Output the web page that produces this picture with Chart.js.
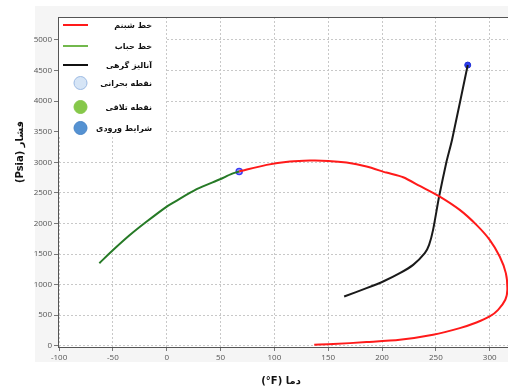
<!DOCTYPE html>
<html>
<head>
<meta charset="utf-8">
<script src="https://cdn.jsdelivr.net/npm/chart.js@4.4.1/dist/chart.umd.min.js"></script>
<style>
  html, body { margin: 0; padding: 0; background: #ffffff; }
  #c { display: block; }
</style>
</head>
<body>
<canvas id="c" width="508" height="387"></canvas>
<script>
// Phase envelope: dew line (red) and bubble line (green), plus the nodal-analysis path
const dewTemp = [67.3, 92.8, 114.4, 133, 150, 167, 185.6, 204, 219.6, 235, 253.6, 272.2, 287.7, 300, 309.3, 315, 316.4, 314.5, 307.8, 300, 287.7, 272.2, 247.4, 216.5, 185.6, 154.6, 137];
const dewPres = [2850, 2958, 3012, 3028, 3023, 2995, 2930, 2832, 2756, 2614, 2440, 2222, 1977, 1732, 1459, 1188, 915, 752, 588, 479, 381, 289, 180, 98, 60, 28, 16];

const bubbleTemp = [-62.6, -49.6, -34, -18.6, 0, 7.7, 27.8, 49.5, 60.3, 67.3];
const bubblePres = [1351, 1569, 1814, 2031, 2276, 2358, 2560, 2723, 2810, 2850];

const nodalTemp = [164.8, 185.6, 201, 216.5, 228.9, 239.7, 243.7, 247.4, 253, 259.9, 265, 279.6];
const nodalPres = [806, 942, 1051, 1187, 1323, 1514, 1650, 1895, 2440, 3012, 3366, 4590];

const criticalPoint = [67.3, 2850];
const crossingPoint = [];          // no intersection marker is plotted
const inletPoint = [279.6, 4590];

const seriesLabels = ['خط شبنم', 'خط حباب', 'آنالیز گرهی', 'نقطه بحرانی', 'نقطه تلاقی', 'شرایط ورودی'];
const xTitle = '(°F) دما';
const yTitle = '(Psia) فشار';

const xTicks = [-100, -50, 0, 50, 100, 150, 200, 250, 300];
const yTicks = [0, 500, 1000, 1500, 2000, 2500, 3000, 3500, 4000, 4500, 5000];

const toXY = (xs, ys) => xs.map((x, i) => ({ x: x, y: ys[i] }));
const onePoint = p => (p.length ? [{ x: p[0], y: p[1] }] : []);

const ARABIC_FONT = '"DejaVu Sans", sans-serif';

// Page panel, white plotting area and top frame line
const panelPlugin = {
  id: 'panel',
  beforeDraw(chart) {
    const { ctx, chartArea: a } = chart;
    ctx.save();
    ctx.fillStyle = '#ffffff';
    ctx.fillRect(0, 0, chart.width, chart.height);
    ctx.fillStyle = '#f5f5f5';
    ctx.fillRect(35, 6, chart.width - 35, 356);
    ctx.fillStyle = '#ffffff';
    ctx.fillRect(a.left, a.top, a.right - a.left, a.bottom - a.top);
    ctx.restore();
  },
  afterDraw(chart) {
    const { ctx, chartArea: a } = chart;
    ctx.save();
    ctx.strokeStyle = '#555555';
    ctx.lineWidth = 1;
    ctx.beginPath();
    ctx.moveTo(a.left, a.top + 0.5);
    ctx.lineTo(a.right, a.top + 0.5);
    ctx.stroke();

    // axis titles
    ctx.fillStyle = '#111111';
    ctx.font = 'bold 10px ' + ARABIC_FONT;
    ctx.textAlign = 'center';
    ctx.textBaseline = 'middle';
    ctx.fillText(xTitle, 281, 381);
    ctx.translate(20, 152);
    ctx.rotate(-Math.PI / 2);
    ctx.fillText(yTitle, 0, 0);
    ctx.restore();
  }
};

// Legend box drawn inside the plotting area, over the grid
const insideLegend = {
  id: 'insideLegend',
  beforeDatasetsDraw(chart) {
    const { ctx, chartArea: a } = chart;
    ctx.save();
    ctx.fillStyle = '#ffffff';
    ctx.fillRect(a.left + 1, a.top + 1, 107, 119);
    ctx.restore();
  },
  afterDatasetsDraw(chart) {
    const { ctx, chartArea: a } = chart;
    const rows = [25, 46, 65, 83, 107, 128];
    ctx.save();
    chart.data.datasets.forEach((ds, i) => {
      const y = rows[i];
      const lg = ds.legendStyle;
      if (lg.kind === 'line') {
        ctx.strokeStyle = lg.color;
        ctx.lineWidth = 2;
        ctx.beginPath();
        ctx.moveTo(a.left + 5, y);
        ctx.lineTo(a.left + 30, y);
        ctx.stroke();
      } else {
        ctx.beginPath();
        ctx.arc(a.left + 22.5, y, 6.5, 0, Math.PI * 2);
        ctx.fillStyle = lg.fill;
        ctx.fill();
        ctx.strokeStyle = lg.stroke;
        ctx.lineWidth = 1;
        ctx.stroke();
      }
      ctx.fillStyle = '#111111';
      ctx.font = 'bold 8px ' + ARABIC_FONT;
      ctx.textAlign = 'right';
      ctx.textBaseline = 'middle';
      ctx.fillText(ds.label, 152, y + 1);
    });
    ctx.restore();
  }
};

const tickFont = { family: '"Open Sans", sans-serif', size: 8 };

const axisCommon = {
  type: 'linear',
  grid: { color: '#c8c8c8', lineWidth: 1, drawTicks: true, tickLength: 4, tickColor: '#777777' },
  border: { display: true, color: '#555555', width: 1, dash: [2, 2] },
};

new Chart(document.getElementById('c'), {
  type: 'scatter',
  data: {
    datasets: [
      {
        label: seriesLabels[0], data: toXY(dewTemp, dewPres), showLine: true,
        borderColor: '#ff1a1a', borderWidth: 2, pointRadius: 0, tension: 0.25,
        legendStyle: { kind: 'line', color: '#ff1a1a' }
      },
      {
        label: seriesLabels[1], data: toXY(bubbleTemp, bubblePres), showLine: true,
        borderColor: '#267a26', borderWidth: 2, pointRadius: 0, tension: 0.25,
        legendStyle: { kind: 'line', color: '#72b84c' }
      },
      {
        label: seriesLabels[2], data: toXY(nodalTemp, nodalPres), showLine: true,
        borderColor: '#1a1a1a', borderWidth: 2, pointRadius: 0, tension: 0.2,
        legendStyle: { kind: 'line', color: '#111111' }
      },
      {
        label: seriesLabels[3], data: onePoint(criticalPoint), showLine: false,
        pointRadius: 3, borderWidth: 1.5, pointBorderColor: '#3a3af5', pointBackgroundColor: '#a8b4ff',
        legendStyle: { kind: 'dot', fill: '#d6e5f6', stroke: '#9dbbe4' }
      },
      {
        label: seriesLabels[4], data: onePoint(crossingPoint), showLine: false,
        pointRadius: 3, pointBorderColor: '#6fbf3a', pointBackgroundColor: '#86c84a',
        legendStyle: { kind: 'dot', fill: '#86c84a', stroke: '#86c84a' }
      },
      {
        label: seriesLabels[5], data: onePoint(inletPoint), showLine: false,
        pointRadius: 3, borderWidth: 1, pointBorderColor: '#1f2fd8', pointBackgroundColor: '#2f3ff0',
        legendStyle: { kind: 'dot', fill: '#5592d2', stroke: '#4a86c8' }
      }
    ]
  },
  options: {
    responsive: false,
    animation: false,
    devicePixelRatio: 1,
    // the plotting area runs to the right edge of the canvas
    layout: { autoPadding: false, padding: { left: 0, top: 17, right: 0, bottom: 0 } },
    plugins: { legend: { display: false }, tooltip: { enabled: false } },
    scales: {
      x: Object.assign({}, axisCommon, {
        min: -101, max: 317,
        ticks: {
          stepSize: 50, includeBounds: false, padding: 2, color: '#555555', font: tickFont,
          callback: v => String(v)
        },
        afterBuildTicks: s => { s.ticks = xTicks.map(v => ({ value: v })); },
        afterFit: s => { s.height = 40; s.paddingLeft = 0; s.paddingRight = 0; }
      }),
      y: Object.assign({}, axisCommon, {
        min: -20, max: 5376,
        ticks: {
          stepSize: 500, includeBounds: false, padding: 2, color: '#555555', font: tickFont,
          callback: v => String(v)
        },
        afterBuildTicks: s => { s.ticks = yTicks.map(v => ({ value: v })); },
        afterFit: s => { s.width = 58; s.paddingTop = 0; s.paddingBottom = 0; }
      })
    }
  },
  plugins: [panelPlugin, insideLegend]
});
</script>
</body>
</html>
